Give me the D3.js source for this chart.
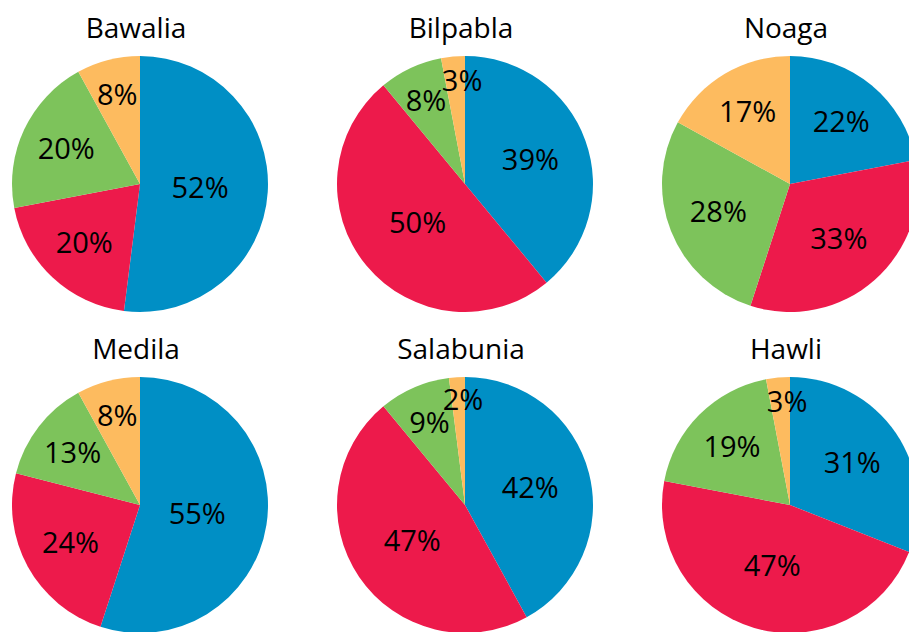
<!DOCTYPE html>
<html>
<head>
<meta charset="utf-8">
<script src="https://cdn.jsdelivr.net/npm/d3@7"></script>
<style>
  body { margin: 0; background: #fff; }
  svg { display: block; }
  text { font-family: "Open Sans", "Noto Sans", sans-serif; fill: #000; }
</style>
</head>
<body>
<div id="chart"></div>
<script>
// data
var regions = ["Bawalia", "Bilpabla", "Noaga", "Medila", "Salabunia", "Hawli"];
var blueShare   = [52, 39, 22, 55, 42, 31];
var redShare    = [20, 50, 33, 24, 47, 47];
var greenShare  = [20,  8, 28, 13,  9, 19];
var orangeShare = [ 8,  3, 17,  8,  2,  3];
var sliceColors = ["#008fc5", "#ed1a4b", "#7dc35b", "#fdbb5f"];

// layout
var width = 909, height = 632;
var radius = 128;
var colX = d3.scaleOrdinal().domain([0, 1, 2]).range([140, 465, 790]);
var rowY = d3.scaleOrdinal().domain([0, 1]).range([184, 505]);

// label distance from center depends on slice share
var labelDist = d3.scaleLinear()
  .domain([0.02, 0.1, 0.3, 0.55])
  .range([105, 87, 76, 58])
  .clamp(true);

var svg = d3.select("#chart").append("svg")
  .attr("width", width)
  .attr("height", height);

var pie = d3.pie().sort(null).value(function(d) { return d; });
var arc = d3.arc().innerRadius(0).outerRadius(radius);

// tiny slices: label sits near the top, almost centred
function labelAngle(d, total) {
  if (d.value / total < 0.05) return d.endAngle - (d.endAngle - d.startAngle) * 0.15;
  return (d.startAngle + d.endAngle) / 2;
}

regions.forEach(function(name, i) {
  var vals = [blueShare[i], redShare[i], greenShare[i], orangeShare[i]];
  var total = d3.sum(vals);
  var cx = colX(i % 3), cy = rowY(Math.floor(i / 3));

  var g = svg.append("g").attr("transform", "translate(" + cx + "," + cy + ")");

  var slices = pie(vals);

  g.selectAll("path")
    .data(slices)
    .enter().append("path")
    .attr("d", arc)
    .attr("fill", function(d, j) { return sliceColors[j]; });

  g.selectAll("text.lbl")
    .data(slices)
    .enter().append("text")
    .attr("class", "lbl")
    .attr("text-anchor", "middle")
    .style("font-size", "29px")
    .attr("x", function(d) {
      return Math.sin(labelAngle(d, total)) * labelDist(d.value / total);
    })
    .attr("y", function(d) {
      return -Math.cos(labelAngle(d, total)) * labelDist(d.value / total) + 10;
    })
    .text(function(d) { return d.value + "%"; });

  svg.append("text")
    .attr("x", cx - 4)
    .attr("y", cy - radius - 18)
    .attr("text-anchor", "middle")
    .style("font-size", "28px")
    .text(name);
});
</script>
</body>
</html>
